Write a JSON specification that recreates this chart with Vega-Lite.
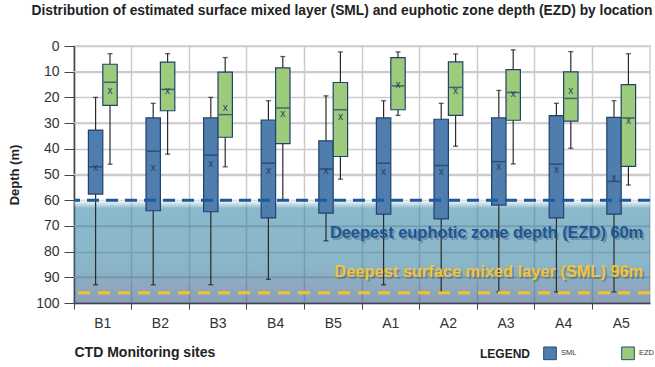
{
  "$schema": "https://vega.github.io/schema/vega-lite/v6.json",
  "width": 576,
  "height": 257,
  "autosize": "none",
  "padding": {"left": 74, "top": 46, "right": 5, "bottom": 64},
  "background": "white",
  "title": {
    "text": "Distribution of estimated surface mixed layer (SML) and euphotic zone depth (EZD) by location",
    "fontSize": 13.8,
    "fontWeight": "bold",
    "font": "Liberation Sans",
    "color": "#222222",
    "anchor": "middle",
    "dx": -20,
    "offset": 21
  },
  "config": {
    "font": "Liberation Sans",
    "view": {"stroke": "#d0d0d0", "strokeWidth": 1.5},
    "axis": {
      "gridColor": "#cbcbcb",
      "gridWidth": 1.5,
      "domainColor": "#444444",
      "domainWidth": 1.5,
      "tickColor": "#444444",
      "labelColor": "#333333",
      "titleColor": "#222222",
      "labelFont": "Liberation Sans",
      "titleFont": "Liberation Sans"
    },
    "axisLeft": {"tickCount": 10, "labelOverlap": false},
    "axisY": {"tickCount": 10, "labelOverlap": false}
  },
  "encoding": {
    "y": {
      "type": "quantitative",
      "scale": {"domain": [0, 100], "reverse": true, "nice": false, "zero": true},
      "axis": {
        "title": "Depth (m)",
        "titleFontSize": 13,
        "titleFontWeight": "bold",
        "titlePadding": 14,
        "labelFontSize": 14,
        "labelPadding": 5,
        "labelOverlap": false,
        "tickSize": 10,
        "tickCount": 10,
        "grid": true
      }
    }
  },
  "datasets": {
    "boxes": [
      {"site": "B1", "series": "SML", "min": 20.0, "q1": 32.7, "median": 47.0, "q3": 57.6, "max": 92.9, "mean": 47.3},
      {"site": "B1", "series": "EZD", "min": 3.0, "q1": 7.1, "median": 14.1, "q3": 23.1, "max": 46.0, "mean": 17.4},
      {"site": "B2", "series": "SML", "min": 22.3, "q1": 28.0, "median": 40.9, "q3": 64.1, "max": 92.9, "mean": 47.4},
      {"site": "B2", "series": "EZD", "min": 3.0, "q1": 6.3, "median": 16.9, "q3": 25.2, "max": 42.1, "mean": 17.4},
      {"site": "B3", "series": "SML", "min": 20.0, "q1": 28.0, "median": 42.5, "q3": 64.5, "max": 92.9, "mean": 46.1},
      {"site": "B3", "series": "EZD", "min": 4.5, "q1": 10.2, "median": 26.7, "q3": 35.5, "max": 47.0, "mean": 24.1},
      {"site": "B4", "series": "SML", "min": 21.3, "q1": 28.8, "median": 45.6, "q3": 66.9, "max": 90.8, "mean": 48.7},
      {"site": "B4", "series": "EZD", "min": 4.1, "q1": 8.5, "median": 24.1, "q3": 38.0, "max": 59.8, "mean": 26.5},
      {"site": "B5", "series": "SML", "min": 19.4, "q1": 36.9, "median": 47.9, "q3": 65.0, "max": 75.8, "mean": 48.7},
      {"site": "B5", "series": "EZD", "min": 2.3, "q1": 14.2, "median": 24.8, "q3": 43.0, "max": 51.8, "mean": 27.6},
      {"site": "A1", "series": "SML", "min": 21.3, "q1": 28.0, "median": 45.6, "q3": 65.4, "max": 92.9, "mean": 49.0},
      {"site": "A1", "series": "EZD", "min": 2.3, "q1": 4.5, "median": 15.5, "q3": 24.8, "max": 27.0, "mean": 15.1},
      {"site": "A2", "series": "SML", "min": 22.3, "q1": 28.5, "median": 46.5, "q3": 67.3, "max": 95.7, "mean": 49.2},
      {"site": "A2", "series": "EZD", "min": 3.1, "q1": 6.2, "median": 16.1, "q3": 27.0, "max": 39.0, "mean": 17.7},
      {"site": "A3", "series": "SML", "min": 17.3, "q1": 28.0, "median": 45.0, "q3": 61.9, "max": 95.7, "mean": 46.9},
      {"site": "A3", "series": "EZD", "min": 1.5, "q1": 9.2, "median": 18.1, "q3": 28.9, "max": 45.9, "mean": 18.5},
      {"site": "A4", "series": "SML", "min": 22.3, "q1": 27.1, "median": 46.0, "q3": 66.9, "max": 95.7, "mean": 48.2},
      {"site": "A4", "series": "EZD", "min": 2.2, "q1": 10.1, "median": 20.4, "q3": 29.2, "max": 39.8, "mean": 17.6},
      {"site": "A5", "series": "SML", "min": 21.3, "q1": 27.8, "median": 52.7, "q3": 65.4, "max": 95.7, "mean": 51.3},
      {"site": "A5", "series": "EZD", "min": 3.0, "q1": 15.0, "median": 28.0, "q3": 46.8, "max": 54.1, "mean": 29.1}
    ]
  },
  "layer": [
    {
      "data": {"values": [{"g": 10}, {"g": 30}, {"g": 50}, {"g": 70}, {"g": 90}]},
      "mark": {"type": "rule", "color": "#cbcbcb", "strokeWidth": 1.5},
      "encoding": {"y": {"field": "g"}}
    },
    {
      "data": {"values": [{"top": 60, "bottom": 100}]},
      "mark": {
        "type": "rect",
        "fillOpacity": 0.55,
        "color": {
          "gradient": "linear",
          "x1": 0, "y1": 0, "x2": 0, "y2": 1,
          "stops": [
            {"offset": 0, "color": "#ffffff"},
            {"offset": 0.08, "color": "#2a80a1"},
            {"offset": 0.6, "color": "#2b7a9c"},
            {"offset": 1, "color": "#30517e"}
          ]
        }
      },
      "encoding": {
        "y": {"field": "top"},
        "y2": {"field": "bottom"}
      }
    },
    {
      "data": {"name": "boxes"},
      "mark": {"type": "rule", "color": "#2a2a2a", "strokeWidth": 1.2},
      "encoding": {
        "x": {
          "field": "site", "type": "nominal",
          "sort": ["B1", "B2", "B3", "B4", "B5", "A1", "A2", "A3", "A4", "A5"],
          "scale": {"paddingInner": 0, "paddingOuter": 0},
          "axis": {
            "title": "CTD Monitoring sites",
            "titleFontSize": 14,
            "titleFontWeight": "bold",
            "titleAnchor": "start",
            "titleAlign": "left",
            "titlePadding": 15,
            "labelFontSize": 14,
            "labelAngle": 0,
            "labelPadding": 7,
            "tickSize": 6,
            "bandPosition": 0,
            "grid": true,
            "domainColor": "#444444"
          }
        },
        "xOffset": {
          "field": "series", "type": "nominal",
          "sort": ["SML", "EZD"],
          "scale": {"paddingOuter": 1.057, "paddingInner": 0}
        },
        "y": {"field": "min"},
        "y2": {"field": "max"}
      }
    },
    {
      "data": {"name": "boxes"},
      "mark": {"type": "tick", "color": "#1a1a1a", "size": 5, "thickness": 1.3},
      "encoding": {
        "x": {"field": "site", "type": "nominal", "sort": ["B1", "B2", "B3", "B4", "B5", "A1", "A2", "A3", "A4", "A5"]},
        "xOffset": {"field": "series", "type": "nominal", "sort": ["SML", "EZD"]},
        "y": {"field": "min"}
      }
    },
    {
      "data": {"name": "boxes"},
      "mark": {"type": "tick", "color": "#1a1a1a", "size": 5, "thickness": 1.3},
      "encoding": {
        "x": {"field": "site", "type": "nominal", "sort": ["B1", "B2", "B3", "B4", "B5", "A1", "A2", "A3", "A4", "A5"]},
        "xOffset": {"field": "series", "type": "nominal", "sort": ["SML", "EZD"]},
        "y": {"field": "max"}
      }
    },
    {
      "data": {"name": "boxes"},
      "mark": {"type": "bar", "stroke": "#22426b", "strokeWidth": 1.2},
      "encoding": {
        "x": {"field": "site", "type": "nominal", "sort": ["B1", "B2", "B3", "B4", "B5", "A1", "A2", "A3", "A4", "A5"]},
        "xOffset": {"field": "series", "type": "nominal", "sort": ["SML", "EZD"]},
        "y": {"field": "q1"},
        "y2": {"field": "q3"},
        "color": {
          "field": "series", "type": "nominal",
          "scale": {"domain": ["SML", "EZD"], "range": ["#4f7dad", "#9dcb7c"]},
          "legend": {
            "title": "LEGEND",
            "titleOrient": "left",
            "titleFontSize": 12,
            "titleFontWeight": "bold",
            "titleColor": "#222222",
            "titlePadding": 12,
            "direction": "horizontal",
            "orient": "none",
            "legendX": 406,
            "legendY": 300,
            "symbolType": "square",
            "symbolSize": 160,
            "symbolStrokeColor": "#2b4a72",
            "symbolStrokeWidth": 1,
            "labelFontSize": 7.5,
            "labelOffset": 4,
            "labelColor": "#333333",
            "columnPadding": 42
          }
        }
      }
    },
    {
      "data": {"name": "boxes"},
      "mark": {"type": "tick", "color": "#1f3a60", "size": 13, "thickness": 1.5},
      "encoding": {
        "x": {"field": "site", "type": "nominal", "sort": ["B1", "B2", "B3", "B4", "B5", "A1", "A2", "A3", "A4", "A5"]},
        "xOffset": {"field": "series", "type": "nominal", "sort": ["SML", "EZD"]},
        "y": {"field": "median"}
      }
    },
    {
      "data": {"name": "boxes"},
      "mark": {"type": "text", "text": "x", "color": "#233f66", "fontSize": 10, "baseline": "middle", "align": "center"},
      "encoding": {
        "x": {"field": "site", "type": "nominal", "sort": ["B1", "B2", "B3", "B4", "B5", "A1", "A2", "A3", "A4", "A5"]},
        "xOffset": {"field": "series", "type": "nominal", "sort": ["SML", "EZD"]},
        "y": {"field": "mean"}
      }
    },
    {
      "data": {"values": [{"depth": 60}]},
      "mark": {"type": "rule", "color": "#1c5a9c", "strokeWidth": 3, "strokeDash": [12, 7]},
      "encoding": {"y": {"field": "depth"}}
    },
    {
      "data": {"values": [{"depth": 96}]},
      "mark": {"type": "rule", "color": "#f7c12e", "strokeWidth": 3, "strokeDash": [12, 8]},
      "encoding": {"y": {"field": "depth"}}
    },
    {
      "data": {"values": [
        {"site": "A5", "depth": 72.6, "label": "Deepest euphotic zone depth (EZD) 60m"},
        {"site": "A5", "depth": 87.8, "label": "Deepest surface mixed layer (SML) 96m"}
      ]},
      "mark": {"type": "text", "align": "right", "baseline": "middle", "dx": 22, "fontSize": 16.4, "fontWeight": "bold", "color": "#3a4a5a", "opacity": 0.35, "xOffset": 2, "yOffset": 2},
      "encoding": {
        "x": {"field": "site", "type": "nominal", "sort": ["B1", "B2", "B3", "B4", "B5", "A1", "A2", "A3", "A4", "A5"]},
        "y": {"field": "depth"},
        "text": {"field": "label"}
      }
    },
    {
      "data": {"values": [
        {"site": "A5", "depth": 72.6, "label": "Deepest euphotic zone depth (EZD) 60m", "kind": "EZD"},
        {"site": "A5", "depth": 87.8, "label": "Deepest surface mixed layer (SML) 96m", "kind": "SML"}
      ]},
      "mark": {"type": "text", "align": "right", "baseline": "middle", "dx": 22, "fontSize": 16.4, "fontWeight": "bold"},
      "encoding": {
        "x": {"field": "site", "type": "nominal", "sort": ["B1", "B2", "B3", "B4", "B5", "A1", "A2", "A3", "A4", "A5"]},
        "y": {"field": "depth"},
        "text": {"field": "label"},
        "fill": {"field": "kind", "type": "nominal", "scale": {"domain": ["EZD", "SML"], "range": ["#1d5597", "#f3c333"]}, "legend": null}
      }
    }
  ]
}
